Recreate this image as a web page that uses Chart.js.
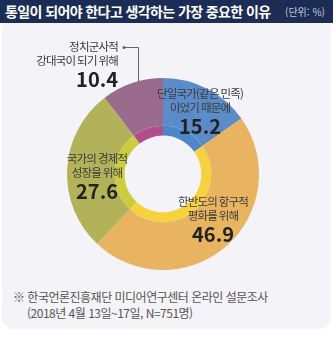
<!DOCTYPE html>
<html lang="ko">
<head>
<meta charset="utf-8">
<script src="https://cdn.jsdelivr.net/npm/chart.js@4.4.1/dist/chart.umd.min.js"></script>
<style>
  body { margin: 0; background: #fff; font-family: "Noto Sans CJK KR", "Noto Sans", sans-serif; }
  #wrap { position: relative; width: 333px; height: 337px; overflow: hidden; }
  #panel { position: absolute; left: 2px; top: 20px; width: 329px; height: 309px; background: #f4f3f7; border-radius: 0 0 12px 12px; }
  #head { position: absolute; left: 0; top: 0; width: 333px; height: 23px; background: #1c2d55; }
  #title { position: absolute; left: 5px; top: 2px; color: #fff; font-weight: bold; font-size: 14px; letter-spacing: -0.6px; line-height: 19px; }
  #unit { position: absolute; right: 8px; top: 4px; color: #c4c8d6; font-size: 10px; line-height: 15px; }
  #note { position: absolute; left: 13px; top: 289px; color: #555; font-size: 12px; letter-spacing: -0.5px; line-height: 15.5px; }
  #note span { padding-left: 14px; }
  canvas { position: absolute; left: 0; top: 0; }
</style>
</head>
<body>
<div id="wrap">
  <div id="panel"></div>
  <div id="head"></div>
  <div id="title">통일이 되어야 한다고 생각하는 가장 중요한 이유</div>
  <div id="unit">(단위: %)</div>
  <div id="note">※ 한국언론진흥재단 미디어연구센터 온라인 설문조사<br><span>(2018년 4월 13일~17일, N=751명)</span></div>
  <canvas id="myChart" width="333" height="337"></canvas>
</div>
<script>
var labels = [["단일국가(같은 민족)", "이었기 때문에"], ["한반도의 항구적", "평화를 위해"], ["국가의 경제적", "성장을 위해"], ["정치군사적", "강대국이 되기 위해"]];
var values = [15.2, 46.9, 27.6, 10.4];
var colors = ["#5b8bc8", "#e9b462", "#b2b25a", "#9a6b8c"];
var ringColors = ["#4f86c9", "#f6d23c", "#cccd3e", "#b04e8c"];

// where each label block sits: [x, y of first line, align]
var labelPos = [[200, 94, "center"], [213, 202, "center"], [97, 159, "center"], [118, 47, "right"]];

var segLabels = {
  id: 'segLabels',
  afterDraw: function(chart) {
    var ctx = chart.ctx;
    ctx.save();
    ctx.textBaseline = "middle";
    // leader line for the small slice
    ctx.strokeStyle = "#666";
    ctx.lineWidth = 1;
    ctx.beginPath();
    ctx.moveTo(125, 47.5);
    ctx.lineTo(138.5, 47.5);
    ctx.lineTo(138.5, 82);
    ctx.stroke();
    ctx.beginPath();
    ctx.arc(124, 47.5, 1.5, 0, Math.PI * 2);
    ctx.fillStyle = "#666";
    ctx.fill();
    for (var i = 0; i < values.length; i++) {
      var p = labelPos[i];
      ctx.textAlign = p[2];
      ctx.fillStyle = "#3a3a3a";
      ctx.font = "11.5px 'Noto Sans CJK KR'";
      ctx.letterSpacing = "-0.8px";
      ctx.fillText(labels[i][0], p[0], p[1]);
      ctx.fillText(labels[i][1], p[0], p[1] + 13.5);
      ctx.fillStyle = "#222";
      ctx.font = "bold 20px 'Noto Sans CJK KR'";
      ctx.letterSpacing = "0px";
      ctx.fillText(values[i].toFixed(1), p[0], p[1] + 32);
    }
    ctx.restore();
  }
};

var chart = new Chart(document.getElementById("myChart"), {
  type: 'doughnut',
  data: {
    labels: labels.map(function(l) { return l.join(" "); }),
    datasets: [
      { data: values, backgroundColor: colors, borderWidth: 0, weight: 4.8 },
      { data: values, backgroundColor: ringColors, borderWidth: 0, weight: 1 }
    ]
  },
  options: {
    responsive: false,
    animation: false,
    cutout: '40%',
    layout: { padding: { left: 67, right: 74, top: 78, bottom: 67 } },
    plugins: { legend: { display: false }, tooltip: { enabled: false } }
  },
  plugins: [segLabels]
});
</script>
</body>
</html>
